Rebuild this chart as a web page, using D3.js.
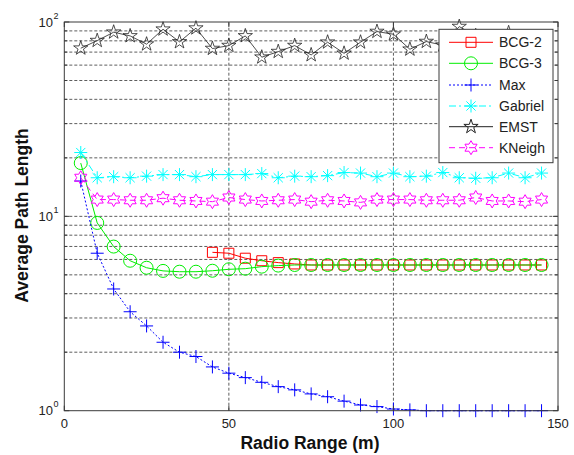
<!DOCTYPE html>
<html>
<head>
<meta charset="utf-8">
<script src="https://cdn.jsdelivr.net/npm/d3@7"></script>
<style>
  body { margin: 0; background: #fff; }
  svg { display: block; font-family: "Liberation Sans", Arial, sans-serif; }
</style>
</head>
<body>
<svg id="chart" width="574" height="455"></svg>
<script>
// Radio range (m) sampled every 5 m
const radioRange = [5,10,15,20,25,30,35,40,45,50,55,60,65,70,75,80,85,90,95,100,105,110,115,120,125,130,135,140,145];

// Average path length per topology
const bcg2 = [null,null,null,null,null,null,null,null,6.53,6.46,6.09,5.91,5.78,5.69,5.62,5.62,5.62,5.62,5.62,5.62,5.62,5.62,5.62,5.62,5.62,5.62,5.62,5.62,5.62];
const bcg3 = [18.8,9.25,6.99,5.91,5.44,5.24,5.19,5.19,5.25,5.34,5.38,5.51,5.58,5.62,5.62,5.62,5.62,5.62,5.62,5.62,5.62,5.62,5.62,5.62,5.62,5.62,5.62,5.62,5.62];
const maxPower = [15.2,6.46,4.23,3.23,2.73,2.25,2.0,1.90,1.68,1.56,1.48,1.40,1.33,1.28,1.22,1.18,1.12,1.07,1.05,1.02,1.01,1.0,1.0,1.0,1.0,1.0,1.0,1.0,1.0];
const gabriel = [21.3,15.8,16.0,15.8,16.1,16.4,16.4,16.0,16.4,16.4,16.4,16.6,15.8,16.1,16.0,16.2,16.8,16.7,16.0,16.7,16.0,16.1,16.8,15.8,15.7,15.8,16.7,15.8,16.7];
const emst = [73.3,80.2,88.6,84.8,76.9,91.8,79.0,93.0,73.0,75.6,84.8,65.9,70.4,75.6,67.7,78.7,69.0,78.7,89.3,86.5,72.4,79.3,76.0,94.7,85.0,78.0,88.0,82.0,80.0];
const kneigh = [15.8,12.2,12.2,12.1,12.1,12.4,12.1,12.0,11.9,12.5,12.2,12.0,12.1,12.2,11.9,12.1,12.0,11.8,12.2,12.2,12.2,12.1,12.1,12.1,12.5,12.0,12.0,11.9,12.2];

const seriesNames = ["BCG-2","BCG-3","Max","Gabriel","EMST","KNeigh"];
const xTicks = [0,50,100,150];
const yDecades = [1,10,100];

const svg = d3.select("#chart");
const x = d3.scaleLinear().domain([0,150]).range([64.3,558]);
const y = d3.scaleLog().domain([1,100]).range([410.7,22]);

// marker shapes
function starPath(n, rOut, rIn) {
  const pts = [];
  for (let i = 0; i < 2*n; i++) {
    const r = i % 2 === 0 ? rOut : rIn;
    const a = -Math.PI/2 + i*Math.PI/n;
    pts.push([r*Math.cos(a), r*Math.sin(a)]);
  }
  return "M" + pts.map(p => p[0].toFixed(2)+","+p[1].toFixed(2)).join("L") + "Z";
}
const markers = {
  square: "M-5,-5H5V5H-5Z",
  circle: "M6.5,0A6.5,6.5 0 1 1 -6.5,0A6.5,6.5 0 1 1 6.5,0Z",
  plus: "M-6.5,0H6.5M0,-6.5V6.5",
  asterisk: "M-6.5,0H6.5M0,-6.5V6.5M-4.6,-4.6L4.6,4.6M-4.6,4.6L4.6,-4.6",
  pentagram: starPath(5, 7.5, 7.5*0.382),
  hexagram: starPath(6, 7, 7*0.577)
};

const series = [
  {name: seriesNames[0], values: bcg2, color: "#ff0000", dash: null, marker: "square", w: 1},
  {name: seriesNames[1], values: bcg3, color: "#00ee00", dash: null, marker: "circle", w: 1},
  {name: seriesNames[2], values: maxPower, color: "#0000ff", dash: "2,2", marker: "plus", w: 1},
  {name: seriesNames[3], values: gabriel, color: "#00ffff", dash: "7,3,2,3", marker: "asterisk", w: 1},
  {name: seriesNames[4], values: emst, color: "#222222", dash: null, marker: "pentagram", w: 0.8},
  {name: seriesNames[5], values: kneigh, color: "#ff00ff", dash: "6,4", marker: "hexagram", w: 1}
];

// grid lines
const grid = svg.append("g").attr("stroke", "#333").attr("stroke-width", 0.8).attr("stroke-dasharray", "3,2");
const minorVals = [];
[1,10].forEach(d => { for (let k = 2; k <= 9; k++) minorVals.push(d*k); });
const gridY = minorVals.concat([10]);
gridY.forEach(v => {
  grid.append("line").attr("x1", x(0)).attr("x2", x(150)).attr("y1", y(v)).attr("y2", y(v));
});
[50,100].forEach(v => {
  grid.append("line").attr("x1", x(v)).attr("x2", x(v)).attr("y1", y(1)).attr("y2", y(100));
});

// series lines and markers
const line = d3.line().defined(d => d[1] != null).x(d => x(d[0])).y(d => y(d[1]));
series.forEach(s => {
  const pts = radioRange.map((r,i) => [r, s.values[i]]);
  svg.append("path").attr("d", line(pts)).attr("fill", "none")
    .attr("stroke", s.color).attr("stroke-width", s.w)
    .attr("stroke-dasharray", s.dash);
  svg.append("g").selectAll("path").data(pts.filter(d => d[1] != null)).join("path")
    .attr("transform", d => `translate(${x(d[0])},${y(d[1])})`)
    .attr("d", markers[s.marker]).attr("fill", "none")
    .attr("stroke", s.color).attr("stroke-width", s.w);
});

// axes box and ticks
const axisColor = "#3a3a3a";
svg.append("rect").attr("x", x(0)).attr("y", y(100)).attr("width", x(150)-x(0)).attr("height", y(1)-y(100))
  .attr("fill", "none").attr("stroke", axisColor).attr("stroke-width", 1);
const ticks = svg.append("g").attr("stroke", axisColor).attr("stroke-width", 1);
xTicks.forEach(v => {
  ticks.append("line").attr("x1", x(v)).attr("x2", x(v)).attr("y1", y(1)).attr("y2", y(1)-5);
  ticks.append("line").attr("x1", x(v)).attr("x2", x(v)).attr("y1", y(100)).attr("y2", y(100)+5);
});
yDecades.forEach(v => {
  ticks.append("line").attr("x1", x(0)).attr("x2", x(0)+5).attr("y1", y(v)).attr("y2", y(v));
  ticks.append("line").attr("x1", x(150)).attr("x2", x(150)-5).attr("y1", y(v)).attr("y2", y(v));
});
minorVals.forEach(v => {
  ticks.append("line").attr("x1", x(0)).attr("x2", x(0)+3).attr("y1", y(v)).attr("y2", y(v));
  ticks.append("line").attr("x1", x(150)).attr("x2", x(150)-3).attr("y1", y(v)).attr("y2", y(v));
});

// tick labels
svg.append("g").selectAll("text").data(xTicks).join("text")
  .attr("x", d => x(d)).attr("y", 427.5).attr("text-anchor", "middle")
  .attr("font-size", 13).attr("fill", "#222").text(d => d);
yDecades.forEach(v => {
  svg.append("text").attr("x", 53).attr("y", y(v)+4.5).attr("text-anchor", "end")
    .attr("font-size", 13).attr("fill", "#222").text("10");
  svg.append("text").attr("x", 53.5).attr("y", y(v)-3.5).attr("text-anchor", "start")
    .attr("font-size", 9).attr("fill", "#222").text(Math.round(Math.log10(v)));
});

// axis titles
svg.append("text").attr("x", 310).attr("y", 449.3).attr("text-anchor", "middle")
  .attr("font-size", 17.5).attr("font-weight", "bold").attr("fill", "#111").text("Radio Range (m)");
svg.append("text").attr("transform", "translate(28,215.5) rotate(-90)").attr("text-anchor", "middle")
  .attr("font-size", 17.5).attr("font-weight", "bold").attr("fill", "#111").text("Average Path Length");

// legend
const lg = svg.append("g");
lg.append("rect").attr("x", 439).attr("y", 29.3).attr("width", 114).attr("height", 133.4)
  .attr("fill", "#fff").attr("stroke", axisColor).attr("stroke-width", 1);
const legendY = [42.3, 63.3, 85, 106, 126.7, 147.7];
series.forEach((s,i) => {
  const ly = legendY[i];
  lg.append("line").attr("x1", 449).attr("x2", 493).attr("y1", ly).attr("y2", ly)
    .attr("stroke", s.color).attr("stroke-width", 1).attr("stroke-dasharray", s.dash);
  lg.append("path").attr("transform", `translate(471,${ly})`).attr("d", markers[s.marker])
    .attr("fill", "none").attr("stroke", s.color).attr("stroke-width", 1);
  lg.append("text").attr("x", 499).attr("y", ly+5).attr("font-size", 14).attr("fill", "#222").text(s.name);
});
</script>
</body>
</html>
